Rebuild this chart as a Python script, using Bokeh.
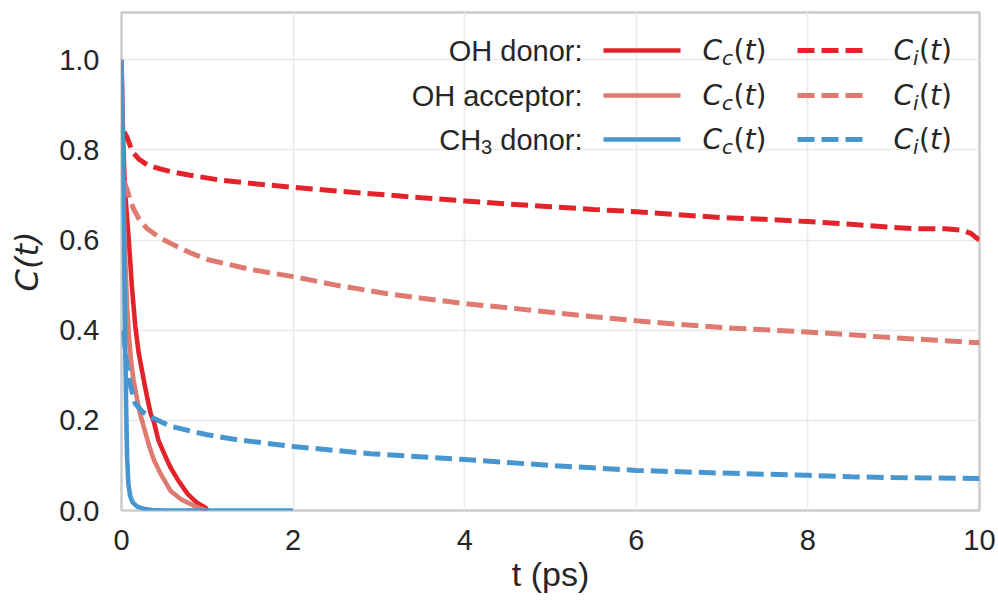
from bokeh.plotting import figure
from bokeh.models import Range1d, Label, FixedTicker, NumeralTickFormatter
from bokeh.embed import file_html
from bokeh.resources import INLINE

# ---- time axis (ps) and correlation functions ----
# OH donor
t_oh_don_c = [0, 0.01, 0.02, 0.03, 0.045, 0.06, 0.085, 0.12, 0.16, 0.2, 0.26, 0.3,
              0.34, 0.38, 0.43, 0.5, 0.57, 0.65, 0.77, 0.88, 0.98, 1.0]
c_oh_don_c = [1.0, 0.9, 0.82, 0.76, 0.70, 0.66, 0.60, 0.5, 0.41, 0.35, 0.289, 0.25,
              0.215, 0.195, 0.156, 0.125, 0.096, 0.07, 0.037, 0.017, 0.006, 0.0]
t_oh_don_i = [0.03, 0.06, 0.1, 0.14, 0.2, 0.3, 0.45, 0.57, 0.8, 1.15, 1.5, 2.0, 2.5,
              3.1, 3.5, 4.0, 4.5, 5.0, 5.5, 6.0, 6.5, 7.0, 7.5, 8.0, 8.5, 9.0, 9.3,
              9.6, 9.8, 9.9, 9.95, 10.0]
c_oh_don_i = [0.84, 0.83, 0.81, 0.793, 0.78, 0.767, 0.758, 0.752, 0.744, 0.733, 0.726,
              0.717, 0.709, 0.70, 0.694, 0.687, 0.68, 0.674, 0.668, 0.663, 0.656, 0.650,
              0.646, 0.641, 0.635, 0.628, 0.625, 0.625, 0.622, 0.615, 0.607, 0.60]

# OH acceptor
t_oh_acc_c = [0, 0.01, 0.02, 0.03, 0.045, 0.066, 0.09, 0.11, 0.14, 0.17, 0.21, 0.26,
              0.32, 0.38, 0.46, 0.57, 0.7, 0.84, 0.98]
c_oh_acc_c = [1.0, 0.85, 0.74, 0.65, 0.55, 0.45, 0.38, 0.333, 0.29, 0.259, 0.22, 0.185,
              0.145, 0.111, 0.08, 0.044, 0.024, 0.011, 0.0]
t_oh_acc_i = [0.03, 0.06, 0.1, 0.14, 0.2, 0.3, 0.45, 0.6, 0.8, 1.0, 1.5, 2.0, 2.5, 3.1,
              3.5, 4.0, 4.5, 5.0, 5.5, 6.0, 6.5, 7.0, 7.5, 8.0, 8.5, 9.0, 9.5, 10.0]
c_oh_acc_i = [0.73, 0.715, 0.69, 0.67, 0.648, 0.625, 0.605, 0.59, 0.572, 0.557, 0.535,
              0.519, 0.50, 0.481, 0.471, 0.459, 0.45, 0.44, 0.43, 0.421, 0.413, 0.406,
              0.401, 0.396, 0.39, 0.383, 0.378, 0.372]

# CH3 donor
t_ch3_don_c = [0, 0.02, 0.035, 0.045, 0.055, 0.065, 0.08, 0.1, 0.13, 0.18, 0.25, 0.35,
               0.5, 1.0, 2.0]
c_ch3_don_c = [1.0, 0.75, 0.5, 0.35, 0.22, 0.12, 0.06, 0.033, 0.018, 0.009, 0.004,
               0.001, 0.0, 0.0, 0.0]
t_ch3_don_i = [0.02, 0.04, 0.066, 0.1, 0.16, 0.25, 0.38, 0.57, 0.81, 1.0, 1.35, 2.0,
               2.9, 4.0, 5.0, 6.0, 7.0, 8.0, 8.5, 9.0, 9.5, 10.0]
c_ch3_don_i = [0.40, 0.36, 0.32, 0.28, 0.237, 0.218, 0.204, 0.187, 0.176, 0.168, 0.157,
               0.142, 0.126, 0.113, 0.10, 0.089, 0.083, 0.078, 0.075, 0.073, 0.072, 0.071]

x_ticks = [0, 2, 4, 6, 8, 10]
y_ticks = [0.0, 0.2, 0.4, 0.6, 0.8, 1.0]
group_names = ["OH donor:", "OH acceptor:", "CH3 donor:"]

RED = "#e3232a"
SALMON = "#de7a6f"
BLUE = "#4896d0"
TEXT = "#262626"
DASH = "17 7"
LW = 4.6
LWD = 5.0

# frame geometry (pixels) used to place the key pieces
FL, FR, FT, FB = 121, 979, 12, 510
X0, X1, Y0, Y1 = 0.0, 10.0, 0.0, 1.105


def xd(px):
    return X0 + (px - FL) / (FR - FL) * (X1 - X0)


def yd(py):
    return Y0 + (FB - py) / (FB - FT) * (Y1 - Y0)


p = figure(width=998, height=603, output_backend="svg", toolbar_location=None,
           x_range=Range1d(X0, X1), y_range=Range1d(Y0, Y1),
           min_border_left=FL, min_border_right=998 - FR,
           min_border_top=FT, min_border_bottom=603 - FB)

p.background_fill_color = "white"
p.border_fill_color = "white"
p.outline_line_color = "#cccccc"
p.outline_line_width = 2.5

for ax in (p.xaxis[0], p.yaxis[0]):
    ax.axis_line_color = None
    ax.major_tick_line_color = None
    ax.minor_tick_line_color = None
    ax.major_tick_in = 0
    ax.major_tick_out = 0
    ax.major_label_text_font = "Liberation Sans"
    ax.major_label_text_font_size = "29px"
    ax.major_label_text_color = TEXT
    ax.axis_label_text_color = TEXT

p.xaxis.ticker = FixedTicker(ticks=x_ticks)
p.yaxis.ticker = FixedTicker(ticks=y_ticks)
p.yaxis.formatter = NumeralTickFormatter(format="0.0")
p.xaxis.major_label_standoff = 19
p.yaxis.major_label_standoff = 22

p.xaxis.axis_label = "t (ps)"
p.xaxis.axis_label_text_font = "Liberation Sans"
p.xaxis.axis_label_text_font_style = "normal"
p.xaxis.axis_label_text_font_size = "34px"
p.xaxis.axis_label_standoff = 2

p.yaxis.axis_label = "C(t)"
p.yaxis.axis_label_text_font = "DejaVu Sans"
p.yaxis.axis_label_text_font_style = "italic"
p.yaxis.axis_label_text_font_size = "32px"
p.yaxis.axis_label_standoff = 10

p.xgrid.grid_line_color = "#ebebeb"
p.ygrid.grid_line_color = "#ebebeb"
p.xgrid.grid_line_width = 1.6
p.ygrid.grid_line_width = 1.6

# curves
p.line(t_oh_don_c, c_oh_don_c, line_color=RED, line_width=LW)
p.line(t_oh_don_i, c_oh_don_i, line_color=RED, line_width=LWD, line_dash=DASH)
p.line(t_oh_acc_c, c_oh_acc_c, line_color=SALMON, line_width=LW)
p.line(t_oh_acc_i, c_oh_acc_i, line_color=SALMON, line_width=LWD, line_dash=DASH)
p.line(t_ch3_don_c, c_ch3_don_c, line_color=BLUE, line_width=LW)
p.line(t_ch3_don_i, c_ch3_don_i, line_color=BLUE, line_width=LWD, line_dash=DASH)

FS = 29
MS = 28
SUB = 20


def add_text(px, py, text, font="Liberation Sans", size=FS, style="normal",
             align="left"):
    p.add_layout(Label(x=xd(px), y=yd(py), text=text, text_font=font,
                       text_font_size=f"{size}px", text_font_style=style,
                       text_align=align, text_baseline="middle",
                       text_color=TEXT))


def add_math(px, py, sub):
    """C_sub(t) with italic symbols and upright parentheses."""
    x = px
    add_text(x, py, "C", font="DejaVu Sans", size=MS, style="italic")
    x += 0.698 * MS
    add_text(x, py + 7, sub, font="DejaVu Sans", size=SUB, style="italic")
    x += (0.55 if sub == "c" else 0.278) * SUB + 0.5
    add_text(x, py, "(", font="DejaVu Sans", size=MS)
    x += 0.391 * MS
    add_text(x, py, "t", font="DejaVu Sans", size=MS, style="italic")
    x += 0.392 * MS
    add_text(x, py, ")", font="DejaVu Sans", size=MS)


# key: one row per group, solid = C_c(t), dashed = C_i(t)
row_y = [50, 95, 139]
colors = [RED, SALMON, BLUE]
LABEL_RIGHT = 582
for name, ry, col in zip(group_names, row_y, colors):
    if name.startswith("CH3"):
        add_text(LABEL_RIGHT, ry, "donor:", align="right")
        x3 = LABEL_RIGHT - (2.835 + 0.278) * FS
        add_text(x3, ry + 7, "3", size=SUB, align="right")
        add_text(x3 - 0.556 * SUB, ry, "CH", align="right")
    else:
        add_text(LABEL_RIGHT, ry, name, align="right")
    p.line([xd(603), xd(680)], [yd(ry), yd(ry)], line_color=col, line_width=LW)
    add_math(702, ry, "c")
    p.line([xd(797), xd(865)], [yd(ry), yd(ry)], line_color=col,
           line_width=LWD, line_dash=DASH)
    add_math(893, ry, "i")

open("out.html", "w").write(file_html(p, INLINE))
